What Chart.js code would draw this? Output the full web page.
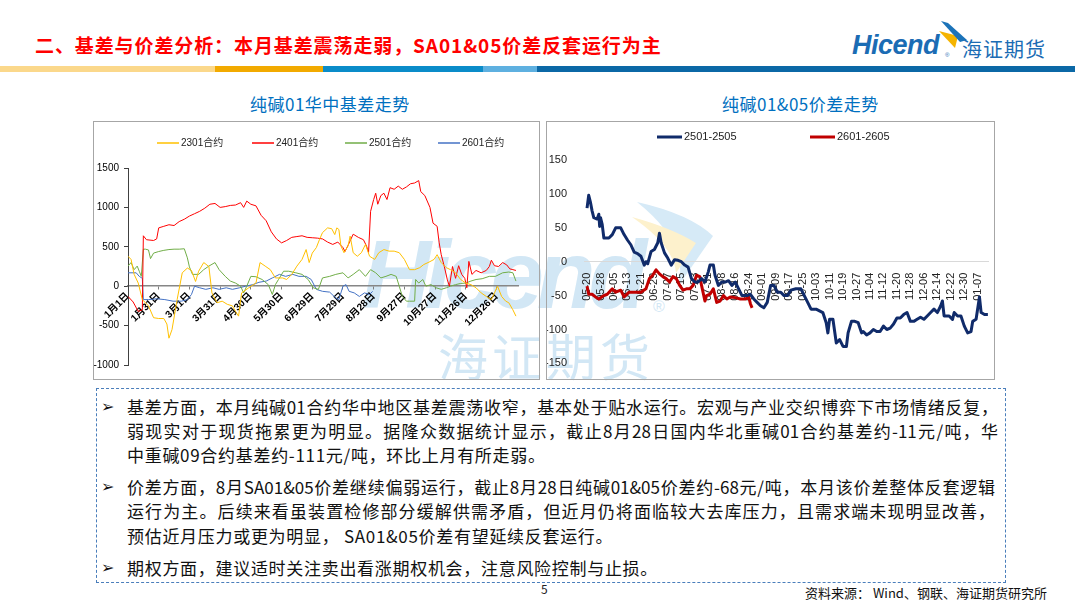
<!DOCTYPE html>
<html>
<head>
<meta charset="utf-8">
<script src="https://cdn.jsdelivr.net/npm/chart.js@4.4.1/dist/chart.umd.min.js"></script>
<style>
body { margin: 0; }
#page { position: relative; width: 1080px; height: 607px; background: #fff; overflow: hidden; font-family: 'Noto Sans CJK SC', sans-serif; }
.abs { position: absolute; }
.bar { position: absolute; top: 66px; height: 6px; }
.box { position: absolute; border: 1px solid #a6a6a6; box-sizing: border-box; z-index: 2; }
.box canvas { position: absolute; left: 0; top: 0; }
.ctitle { position: absolute; top: 91px; font-size: 17px; color: #0070c0; letter-spacing: 0.5px; white-space: nowrap; }
.line { position: absolute; left: 127px; width: 871px; height: 24px; line-height: 24px; font-size: 17px; color: #111; letter-spacing: 0.7px; white-space: nowrap; }
.just { text-align: justify; text-align-last: justify; white-space: normal; letter-spacing: 0; overflow: hidden; }
.bullet { position: absolute; left: 101px; font-size: 16px; line-height: 24px; color: #111; font-family: 'DejaVu Sans', sans-serif; }
</style>
</head>
<body>
<div id="page">
  <div class="abs" style="left:35px; top:32px; font-size:19px; font-weight:bold; color:#ff0000; letter-spacing:0.9px; line-height:26px; white-space:nowrap;">二、基差与价差分析：本月基差震荡走弱，SA01&amp;05价差反套运行为主</div>

  <!-- logo -->
  <svg class="abs" style="left:0; top:0;" width="1080" height="80">
    <polygon points="939,31 958,36 955,48" fill="#f5b400"/>
    <polygon points="941,21 948,23 967,40 960,42" fill="#1b73b9"/>
  </svg>
  <div class="abs" style="left:852px; top:30px; font-family:'Liberation Sans',sans-serif; font-style:italic; font-weight:bold; font-size:27px; color:#1b6cb4; letter-spacing:-0.5px;">Hicend</div>
  <div class="abs" style="left:945px; top:52px; font-family:'Liberation Sans',sans-serif; font-size:6px; color:#1b6cb4;">®</div>
  <div class="abs" style="left:962px; top:37px; font-size:20px; color:#1b6cb4; letter-spacing:1px; line-height:24px;">海证期货</div>

  <div class="bar" style="left:0; width:215px; background:#fbd88b;"></div>
  <div class="bar" style="left:215px; width:108px; background:#f2aa00;"></div>
  <div class="bar" style="left:323px; width:160px; background:#0a8cc9;"></div>
  <div class="bar" style="left:483px; width:54px; background:#5eb0e0;"></div>
  <div class="bar" style="left:537px; width:538px; background:#0b68a6;"></div>

  <div class="ctitle" style="left:250px;">纯碱01华中基差走势</div>
  <div class="ctitle" style="left:722px;">纯碱01&amp;05价差走势</div>

  <!-- watermark -->
  <svg class="abs" style="left:0; top:0; z-index:1;" width="1080" height="607">
    <path d="M637,202 Q690,214 713,236 L677,288 Q692,246 637,202 Z" fill="#d6eaf7"/>
    <path d="M632,217 Q672,228 696,243 L676,273 Q674,246 632,217 Z" fill="#fdf1cc"/>
  </svg>
  <div class="abs" style="left:362px; top:215px; z-index:1; font-family:'Liberation Sans',sans-serif; font-style:italic; font-weight:bold; font-size:96px; line-height:120px; color:#d2e7f5; letter-spacing:-7px;">Hicend</div>
  <div class="abs" style="left:653px; top:298px; z-index:1; font-family:'Liberation Sans',sans-serif; font-size:16px; color:#d2e7f5;">®</div>
  <div class="abs" style="left:438px; top:324px; z-index:1; font-size:50px; line-height:60px; color:#d2e7f5; letter-spacing:4px;">海证期货</div>

  <div class="box" style="left:93px; top:121px; width:447px; height:259px;"><canvas id="basisChart" width="445" height="257"></canvas></div>
  <div class="box" style="left:546px; top:121px; width:449px; height:259px;"><canvas id="spreadChart" width="447" height="257"></canvas></div>

  <!-- commentary -->
  <div class="abs" style="left:96px; top:388px; width:910px; height:195px; border:1px dashed #4a7ebb; box-sizing:border-box;"></div>
  <div class="bullet" style="top:395px;">➢</div>
  <div class="line just" style="top:395px;">基差方面，本月纯碱01合约华中地区基差震荡收窄，基本处于贴水运行。宏观与产业交织博弈下市场情绪反复，</div>
  <div class="line just" style="top:419px;">弱现实对于现货拖累更为明显。据隆众数据统计显示，截止8月28日国内华北重碱01合约基差约-11元/吨，华</div>
  <div class="line" style="top:443px;">中重碱09合约基差约-111元/吨，环比上月有所走弱。</div>
  <div class="bullet" style="top:475px;">➢</div>
  <div class="line just" style="top:475px; width:868px;">价差方面，8月SA01&amp;05价差继续偏弱运行，截止8月28日纯碱01&amp;05价差约-68元/吨，本月该价差整体反套逻辑</div>
  <div class="line just" style="top:499px; width:868px;">运行为主。后续来看虽装置检修部分缓解供需矛盾，但近月仍将面临较大去库压力，且需求端未现明显改善，</div>
  <div class="line" style="top:524px;">预估近月压力或更为明显， SA01&amp;05价差有望延续反套运行。</div>
  <div class="bullet" style="top:556px;">➢</div>
  <div class="line" style="top:556px;">期权方面，建议适时关注卖出看涨期权机会，注意风险控制与止损。</div>

  <div class="abs" style="left:541px; top:580px; font-size:12px; color:#222;">5</div>
  <div class="abs" style="left:805px; top:583px; font-size:13px; color:#111; white-space:nowrap;">资料来源： Wind、钢联、海证期货研究所</div>
</div>

<script>
// 纯碱01华中基差 (day offset from 1月1日)
const basisTickDays = [0, 30, 60, 90, 120, 150, 180, 210, 240, 270, 300, 330, 360]
const basisTickLabels = ['1月1日', '1月31日', '3月1日', '3月31日', '4月30日', '5月30日', '6月29日', '7月29日', '8月28日', '9月27日', '10月27日', '11月26日', '12月26日']

const days2301 = [0, 3, 6, 10, 14, 20, 25, 30, 35, 38, 40, 43, 48, 53, 58, 62, 66, 69, 74, 79, 82, 87, 92, 97, 102, 105, 108, 111, 118, 125, 129, 134, 139, 144, 151, 155, 160, 165, 170, 174, 177, 180, 184, 187, 190, 195, 199, 202, 204, 206, 208, 211, 215, 217, 220, 224, 228, 232, 236, 241, 245, 250, 255, 260, 265, 270, 275, 280, 285, 289, 294, 299, 302, 306, 311, 315, 320, 325, 330, 335, 340, 345, 350, 355, 358, 361, 365, 369, 372, 376, 379]
const basis2301 = [380, 340, 150, 40, -170, -250, -400, -410, -410, -480, -660, -550, -170, 170, 230, 200, 60, 190, 300, 250, -85, -210, -190, -230, -250, -320, -380, -85, -20, 40, 300, 255, 210, 105, 105, 85, 150, 255, 340, 465, 300, 420, 490, 590, 680, 740, 730, 655, 740, 720, 510, 425, 510, 635, 425, 380, 425, 530, 380, 340, 425, 465, 445, 445, 425, 340, 210, 210, 235, 275, 305, 340, 400, 300, 235, 210, 170, 85, 40, 20, -20, -85, -130, -170, -85, 0, -130, -190, -210, -300, -380]

const days2401 = [0, 5, 10, 14, 15, 18, 25, 28, 30, 35, 40, 45, 50, 55, 60, 65, 70, 75, 80, 85, 90, 95, 100, 105, 110, 113, 116, 120, 125, 130, 135, 140, 145, 150, 155, 160, 165, 170, 175, 180, 185, 190, 195, 200, 205, 210, 212, 215, 220, 225, 230, 233, 235, 237, 240, 242, 244, 247, 250, 253, 256, 260, 264, 268, 272, 276, 280, 284, 286, 290, 295, 298, 302, 304, 306, 309, 312, 314, 317, 320, 323, 326, 329, 331, 333, 336, 340, 345, 350, 353, 355, 358, 362, 366, 370, 373, 376, 379]
const basis2401 = [-130, -200, -320, -300, 640, 590, 580, 600, 740, 760, 780, 770, 820, 850, 890, 920, 950, 990, 1040, 1050, 1000, 1010, 1025, 1030, 1060, 1000, 1080, 1040, 1020, 900, 830, 690, 600, 550, 580, 620, 630, 640, 620, 615, 610, 600, 560, 530, 560, 490, 440, 520, 660, 620, 590, 510, 430, 950, 1100, 1180, 1040, 1150, 1180, 1100, 1250, 1230, 1270, 1230, 1260, 1300, 1310, 1340, 1200, 1150, 1000, 800, 760, 550, 400, 250, 80, 0, 250, 100, 260, 150, 100, -20, 315, 150, 200, 170, 200, 250, 330, 260, 250, 300, 270, 220, 210, 200]

const days2501 = [0, 3, 6, 9, 11, 13, 15, 17, 20, 22, 25, 30, 35, 40, 45, 50, 55, 58, 60, 63, 69, 74, 79, 85, 89, 95, 100, 105, 110, 113, 116, 120, 125, 131, 137, 141, 144, 147, 152, 157, 164, 170, 176, 181, 186, 190, 197, 203, 210, 215, 220, 226, 232, 237, 242, 247, 252, 257, 262, 265, 268, 272, 275, 280, 281, 284, 288, 291, 296, 301, 306, 311, 315, 320, 325, 330, 335, 340, 346, 353, 359, 366, 372, 376, 379]
const basis2501 = [255, 300, 210, 255, 190, 125, 470, 470, 460, 350, 420, 440, 455, 465, 470, 470, 475, 360, 245, 150, 150, 210, 255, 300, 210, 125, 65, 40, 0, -85, 0, 125, 120, 85, 20, -105, 20, 85, 190, 190, 170, 150, 85, -20, -40, 105, 125, 150, 170, 105, 150, 210, 125, 210, 170, 105, 125, 150, 125, 0, -130, -190, -190, -190, 85, 40, 85, 0, 20, -20, -40, -20, 0, 20, 35, 40, 65, 85, 95, 125, 125, 170, 180, 170, 65]

const days2601 = [0, 8, 11, 14, 15, 20, 28, 36, 44, 52, 58, 62, 65, 70, 76, 83, 89, 96, 102, 109, 115, 122, 128, 135, 141, 148, 154, 161, 167, 174, 179, 184, 190, 197, 203, 206, 210, 213, 216, 221, 226, 231, 236, 239]
const basis2601 = [170, 170, 125, 100, -170, -170, -160, -170, -190, -190, -170, -105, 0, -20, -40, -20, -40, -20, -40, -20, 0, 20, 50, 65, 105, 150, 125, 150, 125, 125, 85, -40, -65, -75, -150, -170, 0, 20, -65, -85, -130, -85, -105, -65]

// 纯碱01&05价差 (day offset from 05-20)
const spreadTickDays = [0, 8, 16, 24, 32, 40, 48, 56, 64, 72, 80, 88, 96, 104, 112, 120, 128, 136, 144, 152, 160, 168, 176, 184, 192, 200, 208, 216, 224, 232]
const spreadTickLabels = ['05-20', '05-28', '06-05', '06-13', '06-21', '06-29', '07-07', '07-15', '07-23', '07-31', '08-08', '08-16', '08-24', '09-01', '09-09', '09-17', '09-25', '10-03', '10-11', '10-19', '10-27', '11-04', '11-12', '11-20', '11-28', '12-06', '12-14', '12-22', '12-30', '01-07']

const daysA = [0, 1, 2, 3, 4, 6, 7, 7.5, 8, 9, 10, 13, 15, 17, 20, 22, 24, 26, 28, 30, 32, 34, 35, 36, 38, 40, 42, 43, 44, 46, 48, 50, 52, 54, 56, 58, 60, 62, 64, 66, 68, 70, 72, 73, 75, 76, 78, 80, 82, 84, 86, 88, 90, 92, 95, 97, 99, 101, 103, 105, 107, 109, 111, 113, 115, 117, 119, 121, 124, 127, 129, 131, 133, 136, 140, 142, 143, 144, 146, 148, 150, 152, 154, 155, 157, 159, 161, 163, 164, 166, 168, 170, 172, 174, 176, 178, 180, 182, 184, 186, 188, 190, 192, 194, 196, 198, 200, 202, 204, 206, 208, 210, 211, 212, 215, 217, 218, 220, 222, 224, 226, 228, 229, 231, 233, 234, 236, 238]
const spread2501 = [79, 98, 88, 75, 65, 63, 70, 52, 65, 55, 35, 35, 40, 50, 50, 40, 32, 25, 14, 12, 8, -5, 0, -3, 15, 18, 28, 42, 28, 13, 5, -5, 3, 2, 0, -5, -8, -25, -30, -30, -25, -30, -15, -5, -5, -20, -35, -30, -30, -28, -35, -30, -40, -50, -50, -48, -55, -60, -65, -68, -60, -35, -35, -45, -45, -50, -50, -42, -40, -40, -50, -60, -70, -70, -75, -90, -105, -85, -85, -120, -115, -125, -125, -105, -88, -88, -90, -105, -103, -108, -105, -100, -103, -103, -95, -100, -98, -92, -83, -83, -78, -75, -88, -88, -85, -82, -85, -80, -75, -70, -75, -65, -58, -80, -80, -85, -75, -80, -80, -95, -105, -103, -88, -85, -52, -75, -78, -78]

const daysB = [0, 1, 3, 5, 7, 10, 12, 15, 17, 20, 22, 25, 28, 32, 35, 37, 39, 41, 43, 45, 47, 49, 51, 53, 55, 57, 59, 61, 63, 65, 67, 68, 70, 71, 73, 75, 77, 79, 81, 83, 85, 88, 91, 94, 96, 97, 98]
const spread2601 = [-36, -48, -48, -52, -55, -50, -48, -40, -45, -42, -52, -45, -45, -45, -40, -25, -20, -12, -18, -22, -25, -30, -22, -25, -35, -42, -40, -40, -35, -20, -22, -35, -58, -50, -48, -40, -60, -58, -50, -55, -52, -53, -55, -55, -52, -62, -68]

const pts = (days, vals) => days.map((d, i) => ({ x: d, y: vals[i] }))

// legend drawn as short line + label, Excel style
const lineLegend = {
    id: 'lineLegend',
    afterDraw(chart, args, opts) {
        const ctx = chart.ctx
        ctx.save()
        ctx.font = opts.font
        ctx.textBaseline = 'middle'
        chart.data.datasets.forEach((ds, i) => {
            const x = opts.xs[i]
            ctx.strokeStyle = ds.borderColor
            ctx.lineWidth = opts.lineWidth
            ctx.beginPath()
            ctx.moveTo(x, opts.y)
            ctx.lineTo(x + opts.len, opts.y)
            ctx.stroke()
            ctx.fillStyle = opts.color
            ctx.fillText(ds.label, x + opts.len + 2, opts.y)
        })
        ctx.restore()
    }
}

const fontFamily = "'Liberation Sans', 'Noto Sans CJK SC', sans-serif"
Chart.defaults.font.family = fontFamily

new Chart(document.getElementById('basisChart'), {
    type: 'line',
    data: {
        datasets: [
            { label: '2301合约', data: pts(days2301, basis2301), borderColor: '#ffc000' },
            { label: '2401合约', data: pts(days2401, basis2401), borderColor: '#ff0000' },
            { label: '2501合约', data: pts(days2501, basis2501), borderColor: '#70ad47' },
            { label: '2601合约', data: pts(days2601, basis2601), borderColor: '#4472c4' }
        ]
    },
    options: {
        responsive: false,
        animation: false,
        events: [],
        layout: { padding: { left: 0, right: 21, top: 46, bottom: 14 } },
        elements: { point: { radius: 0 }, line: { borderWidth: 1, tension: 0 } },
        plugins: {
            legend: { display: false },
            tooltip: { enabled: false },
            lineLegend: { xs: [63, 158, 251, 344], y: 21, len: 22, lineWidth: 1.5, font: "10px " + fontFamily, color: '#222' }
        },
        scales: {
            x: {
                type: 'linear',
                min: 0,
                max: 381,
                position: { y: 0 },
                afterBuildTicks: s => { s.ticks = basisTickDays.map(v => ({ value: v })) },
                ticks: {
                    autoSkip: false,
                    minRotation: 45,
                    maxRotation: 45,
                    padding: 1,
                    color: '#000',
                    font: { size: 10, weight: 'bold' },
                    callback: v => basisTickLabels[basisTickDays.indexOf(v)]
                },
                grid: { drawOnChartArea: false, drawTicks: true, tickLength: 3, color: '#7f7f7f' },
                border: { color: '#868686', width: 1.5 }
            },
            y: {
                min: -1000,
                max: 1500,
                afterFit: s => { s.width = 34 },
                ticks: { stepSize: 500, color: '#000', padding: 5, font: { size: 10 }, callback: v => String(v) },
                grid: { drawOnChartArea: false, tickLength: 4, color: '#404040' },
                border: { color: '#404040' }
            }
        }
    },
    plugins: [lineLegend]
})

new Chart(document.getElementById('spreadChart'), {
    type: 'line',
    data: {
        datasets: [
            { label: '2501-2505', data: pts(daysA, spread2501), borderColor: '#102b6a' },
            { label: '2601-2605', data: pts(daysB, spread2601), borderColor: '#c00000' }
        ]
    },
    options: {
        responsive: false,
        animation: false,
        events: [],
        layout: { padding: { left: 0, right: 1, top: 38, bottom: 13 } },
        elements: { point: { radius: 0 }, line: { borderWidth: 3, tension: 0, borderJoinStyle: 'round' } },
        plugins: {
            legend: { display: false },
            tooltip: { enabled: false },
            lineLegend: { xs: [110, 263], y: 15, len: 25, lineWidth: 3, font: "11px " + fontFamily, color: '#222' }
        },
        scales: {
            x: {
                type: 'linear',
                min: -1.8,
                max: 238.6,
                position: { y: 0 },
                afterBuildTicks: s => { s.ticks = spreadTickDays.map(v => ({ value: v })) },
                ticks: {
                    autoSkip: false,
                    minRotation: 90,
                    maxRotation: 90,
                    padding: 3,
                    color: '#222',
                    font: { size: 11 },
                    callback: v => spreadTickLabels[spreadTickDays.indexOf(v)]
                },
                grid: { display: false },
                border: { color: '#d9d9d9', width: 1 }
            },
            y: {
                min: -150,
                max: 150,
                afterFit: s => { s.width = 37 },
                ticks: { stepSize: 50, color: '#222', padding: 9, font: { size: 11 } },
                grid: { display: false },
                border: { display: false }
            }
        }
    },
    plugins: [lineLegend]
})
</script>
</body>
</html>
